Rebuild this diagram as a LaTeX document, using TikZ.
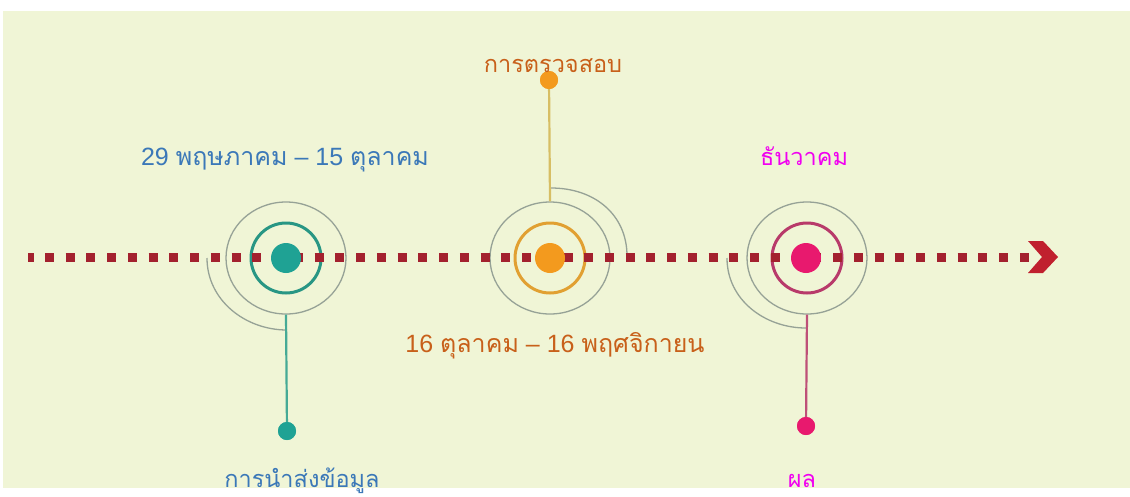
\documentclass[tikz,border=0pt]{standalone}
\usepackage{fontspec}
\setmainfont{Liberation Sans}
\newfontfamily\thai[Script=Thai]{Loma}
\usetikzlibrary{shapes.geometric}
\definecolor{bg}{RGB}{240,245,214}
\definecolor{dotred}{RGB}{163,33,46}
\definecolor{chevred}{RGB}{192,32,46}
\definecolor{grayring}{RGB}{150,162,150}
\definecolor{tealdisk}{RGB}{31,162,148}
\definecolor{tealring}{RGB}{40,150,132}
\definecolor{tealstem}{RGB}{70,170,150}
\definecolor{orangedisk}{RGB}{243,154,30}
\definecolor{orangering}{RGB}{225,160,50}
\definecolor{orangestem}{RGB}{215,190,100}
\definecolor{pinkdisk}{RGB}{232,25,110}
\definecolor{pinkring}{RGB}{184,58,106}
\definecolor{pinkstem}{RGB}{190,80,120}
\definecolor{bluetxt}{RGB}{59,120,184}
\definecolor{orangetxt}{RGB}{200,96,26}
\definecolor{magtxt}{RGB}{240,0,240}
\tikzset{
  disk/.style={circle,inner sep=0pt,minimum size=30pt},
  ringc/.style={circle,draw,line width=3pt,inner sep=0pt,minimum size=70pt},
  grayc/.style={ellipse,draw=grayring,line width=1.3pt,inner sep=0pt,minimum width=120pt,minimum height=112pt},
  spiral/.style={draw=grayring,line width=1.3pt},
  stem/.style={line width=2.2pt},
  enddot/.style={circle,inner sep=0pt,minimum size=18pt},
  lbl/.style={inner sep=0pt,anchor=base,font=\fontsize{25}{29}\selectfont},
  lblth/.style={inner sep=0pt,anchor=base,font=\fontsize{23.5}{27}\selectfont},
}
\begin{document}
\begin{tikzpicture}[x=1pt,y=-1pt]
\useasboundingbox (0,0) rectangle (1130,496);
\fill[white] (0,0) rectangle (1130,496);
\fill[bg] (3,11) rectangle (1130,488);

% gray outer circles
\node[grayc] (g1) at (286,258) {};
\node[grayc] (g2) at (550,258) {};
\node[grayc] (g3) at (807,258) {};

% spirals
\coordinate (s1a) at (207,258);
\coordinate (s1b) at (287,330);
\draw[spiral] (s1a) .. controls (207,300) and (245,330) .. (s1b);
\coordinate (s2a) at (551,188);
\coordinate (s2b) at (627,256);
\draw[spiral] (s2a) .. controls (595,188) and (627,215) .. (s2b);
\coordinate (s3a) at (727,258);
\coordinate (s3b) at (806,328);
\draw[spiral] (s3a) .. controls (727,300) and (765,328) .. (s3b);

% end dots
\node[enddot,fill=tealdisk] (p1) at (287,431) {};
\node[enddot,fill=orangedisk] (p2) at (549,80) {};
\node[enddot,fill=pinkdisk] (p3) at (806,426) {};

% stems
\draw[stem,draw=tealstem] (g1.south) -- (p1.center);
\draw[stem,draw=orangestem] (g2.north) -- (p2.center);
\draw[stem,draw=pinkstem] (g3.south) -- (p3.center);
\node[enddot,fill=tealdisk] at (p1) {};
\node[enddot,fill=orangedisk] at (p2) {};
\node[enddot,fill=pinkdisk] at (p3) {};

% rings
\node[ringc,draw=tealring] (r1) at (286,258) {};
\node[ringc,draw=orangering] (r2) at (550,258) {};
\node[ringc,draw=pinkring] (r3) at (807,258) {};

% dotted timeline
\coordinate (t0) at (28,257);
\coordinate (t1) at (45,257);
\coordinate (t2) at (1029,257);
\draw[dotred,line width=9pt] (t0) -- (34,257);
\draw[dotred,line width=9pt,dash pattern=on 9pt off 11.74pt] (t1) -- (t2);
\fill[chevred] (1028,241) -- (1043,241) -- (1058,257) -- (1043,273) -- (1028,273) -- (1042,257) -- cycle;

% disks
\node[disk,fill=tealdisk] (d1) at (286,258) {};
\node[disk,fill=orangedisk] (d2) at (550,258) {};
\node[disk,fill=pinkdisk] (d3) at (806,258) {};

% labels
\node[lbl,text=bluetxt] (l1) at (285,165) {29 {\thai พฤษภาคม} – 15 {\thai ตุลาคม}};
\node[lblth,text=orangetxt] (l2) at (553,72) {\thai การตรวจสอบ};
\node[lblth,text=magtxt] (l3) at (804,165) {\thai ธันวาคม};
\node[lbl,text=orangetxt] (l4) at (555,352) {16 {\thai ตุลาคม} – 16 {\thai พฤศจิกายน}};
\node[lblth,text=bluetxt] (l5) at (302,487) {\thai การนำส่งข้อมูล};
\node[lblth,text=magtxt] (l6) at (802,487) {\thai ผล};
\end{tikzpicture}
\end{document}
